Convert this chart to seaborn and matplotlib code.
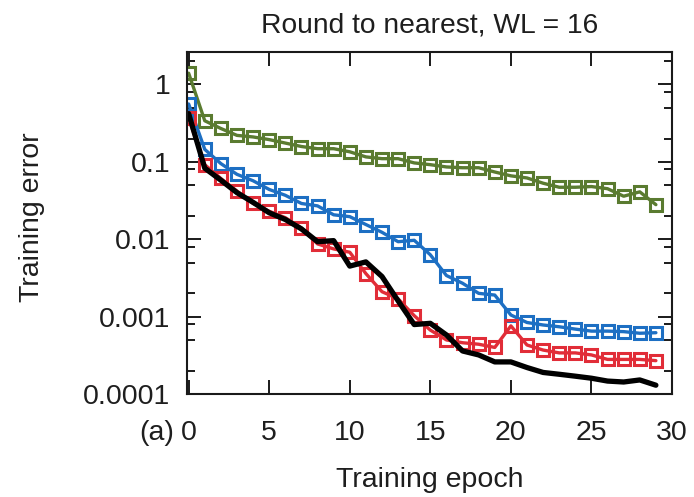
import numpy as np
import pandas as pd
import matplotlib
matplotlib.use("Agg")
import matplotlib.pyplot as plt
import seaborn as sns
from matplotlib import font_manager
from matplotlib.ticker import LogLocator, NullFormatter

# ---- data ----
epochs = list(range(30))
fl8 = [1.4, 0.34, 0.27, 0.22, 0.21, 0.194, 0.175, 0.158, 0.148, 0.148,
       0.135, 0.116, 0.110, 0.110, 0.097, 0.092, 0.086, 0.084, 0.084, 0.074,
       0.066, 0.062, 0.053, 0.047, 0.047, 0.048, 0.045, 0.036, 0.041, 0.028]
fl10 = [0.56, 0.145, 0.095, 0.069, 0.057, 0.044, 0.037, 0.029, 0.027, 0.0207,
        0.0196, 0.0155, 0.0123, 0.0093, 0.0097, 0.0063, 0.0034, 0.0027, 0.0020, 0.0019,
        0.00105, 0.00084, 0.00078, 0.00074, 0.00069, 0.00065, 0.00065, 0.00064, 0.00061, 0.00062]
fl14 = [0.365, 0.092, 0.061, 0.042, 0.029, 0.023, 0.019, 0.014, 0.0087, 0.0075,
        0.0068, 0.0036, 0.0021, 0.0017, 0.00103, 0.00067, 0.0005, 0.00046, 0.00044, 0.0004,
        0.00076, 0.00043, 0.00037, 0.00034, 0.00034, 0.00032, 0.00028, 0.00028, 0.00028, 0.00027]
flt = [0.42, 0.083, 0.058, 0.04, 0.03, 0.022, 0.018, 0.0136, 0.0093, 0.0096,
       0.0045, 0.0051, 0.0033, 0.0016, 0.00079, 0.00082, 0.00058, 0.00036, 0.00032, 0.00026,
       0.00026, 0.00022, 0.00019, 0.00018, 0.00017, 0.00016, 0.000147, 0.000143, 0.000152, 0.00013]

x_ticks = [0, 5, 10, 15, 20, 25, 30]
y_ticks = [1e-4, 1e-3, 1e-2, 1e-1, 1]
y_ticklabels = ["0.0001", "0.001", "0.01", "0.1", "1"]

title = "Round to nearest, WL = 16"
xlabel = "Training epoch"
ylabel = "Training error"
panel = "(a)"

# ---- style ----
sns.set_style("ticks")
names = {f.name for f in font_manager.fontManager.ttflist}
base_font = "Liberation Sans" if "Liberation Sans" in names else "DejaVu Sans"
plt.rcParams["font.family"] = [base_font, "DejaVu Sans"]
txt = "#1e1e1e"

fig = plt.figure(figsize=(6.94, 4.97), dpi=100)
ax = fig.add_axes([0.2695, 0.2072, 0.6988, 0.6874])

series = [
    ("FL 8", fl8, "#5a7b30"),
    ("FL 10", fl10, "#1d6fc3"),
    ("FL 14", fl14, "#e12d38"),
]
for name, vals, col in series:
    df = pd.DataFrame({"epoch": epochs, "error": vals})
    sns.lineplot(data=df, x="epoch", y="error", ax=ax, color=col, lw=2.4,
                 marker="s", markersize=8.6, markerfacecolor="none",
                 markeredgecolor=col, markeredgewidth=2.2, label=name)

df = pd.DataFrame({"epoch": epochs, "error": flt})
sns.lineplot(data=df, x="epoch", y="error", ax=ax, color="black", lw=3.8, label="Float")

ax.legend_.remove()
ax.set_yscale("log")
ax.set_xlim(-0.1, 30)
ax.set_ylim(1e-4, 2.6)
ax.set_xticks(x_ticks)
ax.set_xticklabels([str(t) for t in x_ticks])
ax.set_yticks(y_ticks)
ax.set_yticklabels(y_ticklabels)
ax.yaxis.set_minor_locator(LogLocator(base=10, subs=[2, 5, 8]))
ax.yaxis.set_minor_formatter(NullFormatter())
ax.xaxis.set_minor_locator(matplotlib.ticker.NullLocator())

for s in ax.spines.values():
    s.set_linewidth(1.5)
    s.set_color("#1a1a1a")
ax.tick_params(which="major", direction="in", top=True, right=True,
               length=10, width=1.4, labelsize=20.5, colors="#1a1a1a", labelcolor=txt)
ax.tick_params(axis="x", which="major", pad=19)
ax.tick_params(axis="y", which="major", pad=12)
ax.tick_params(which="minor", direction="in", left=True, right=True,
               length=5.5, width=1.4, colors="#1a1a1a")

ax.set_xlabel(xlabel, fontsize=20.5, color=txt)
ax.set_ylabel(ylabel, fontsize=20.5, color=txt)
ax.xaxis.set_label_coords(0.5, -0.215)
ax.yaxis.set_label_coords(-0.293, 0.517)
ax.set_title(title, fontsize=20.3, color=txt, pad=14)

ax.annotate(panel, xy=(0, 0), xycoords="axes fraction", xytext=(-9, -19),
            textcoords="offset points", ha="right", va="top", fontsize=20.5, color=txt)

fig.savefig("out.png", dpi=100)
